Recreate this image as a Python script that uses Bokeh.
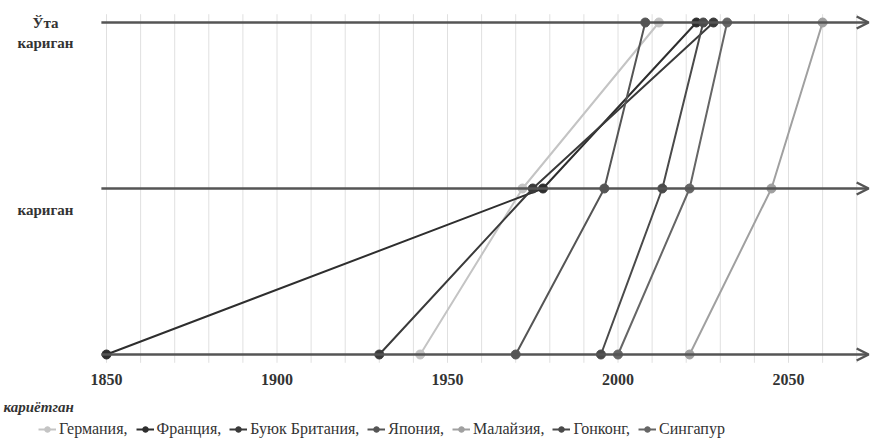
from bokeh.plotting import figure
from bokeh.models import Range1d, Arrow, OpenHead, Legend, LegendItem
from bokeh.core.properties import value
from bokeh.embed import file_html
from bokeh.resources import INLINE

# ---- data ----
levels = [0, 1, 2]
years_ticks = [1850, 1900, 1950, 2000, 2050]
grid_years = list(range(1850, 2071, 10))

series_names = ["Германия,", "Франция,", "Буюк Британия,", "Япония,", "Малайзия,", "Гонконг,", "Сингапур"]
germany = [1942, 1972, 2012]
france = [1850, 1978, 2023]
britain = [1930, 1975, 2028]
japan = [1970, 1996, 2008]
malaysia = [2021, 2045, 2060]
hongkong = [1995, 2013, 2025]
singapore = [2000, 2021, 2032]
series = [germany, france, britain, japan, malaysia, hongkong, singapore]
colors = ["#c4c4c4", "#2e2e2e", "#3a3a3a", "#555555", "#a0a0a0", "#4a4a4a", "#666666"]

# level captions
cap_text = ["Ўта", "кариган", "кариган"]
cap_x = [1832.1, 1832.1, 1832.1]
cap_y = [2.0, 1.8735, 0.8675]
bottom_cap = "кариётган"

XS = 1850 - 106 / 3.41
XE = XS + 870 / 3.41
YS = -(438 - 354) / 166
YE = 2 + 22 / 166

p = figure(width=870, height=438, output_backend="svg", toolbar_location=None,
           x_range=Range1d(XS, XE), y_range=Range1d(YS, YE),
           x_axis_location=None, y_axis_location=None,
           min_border=0)
p.outline_line_color = None
p.grid.visible = False

# vertical grid lines
p.segment(x0=grid_years, y0=[-0.05] * len(grid_years), x1=grid_years, y1=[2.05] * len(grid_years),
          line_color="#e0e0e0", line_width=1)

# level lines with arrows
for lv in levels:
    p.add_layout(Arrow(end=OpenHead(size=12, line_color="#555555", line_width=2.5),
                       x_start=1848.5, y_start=lv, x_end=2073.5, y_end=lv,
                       line_color="#555555", line_width=2.5))

items = []
for name, ys, c in zip(series_names, series, colors):
    r1 = p.line(ys, levels, line_color=c, line_width=2)
    r2 = p.scatter(ys, levels, size=9, fill_color=c, line_color=c)
    items.append(LegendItem(label=name, renderers=[r1, r2]))

# year tick labels
p.text(x=years_ticks, y=[-0.15] * len(years_ticks), text=[str(t) for t in years_ticks],
       text_font=value("Liberation Serif"), text_font_style="bold", text_font_size="16px",
       text_color="#333333", text_align="center", text_baseline="middle")

# level captions
p.text(x=cap_x, y=cap_y, text=cap_text, text_align="center",
       text_font=value("Liberation Serif"), text_font_style="bold", text_font_size="15px",
       text_color="#333333", text_baseline="middle")
p.text(x=[1819.8], y=[-0.315], text=[bottom_cap], text_align="left",
       text_font=value("Liberation Serif"), text_font_style="bold italic", text_font_size="15px",
       text_color="#333333", text_baseline="middle")

legend = Legend(items=items, orientation="horizontal", location=(38, 0),
                label_text_font="Liberation Serif", label_text_font_size="16px",
                label_text_color="#333333", glyph_width=18, glyph_height=14,
                label_standoff=3, spacing=8, padding=0, margin=0,
                border_line_color=None, background_fill_alpha=0)
p.add_layout(legend)

open("out.html", "w").write(file_html(p, INLINE))
